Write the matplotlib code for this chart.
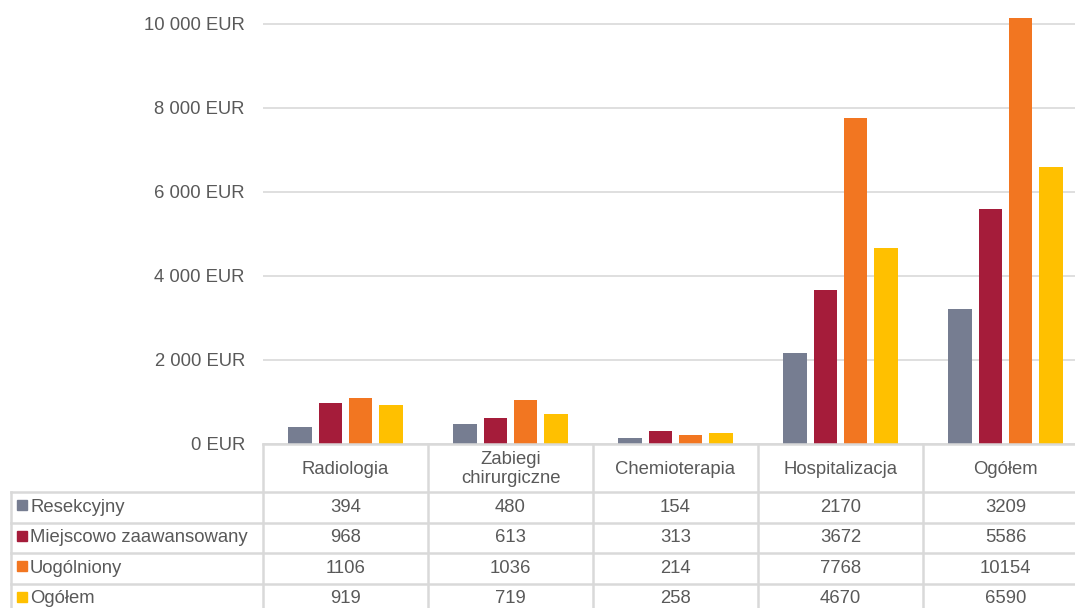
import numpy as np
import matplotlib.pyplot as plt

plt.rcParams['font.family'] = ['Liberation Sans', 'DejaVu Sans']

categories = ['Radiologia', 'Zabiegi\nchirurgiczne', 'Chemioterapia', 'Hospitalizacja', 'Ogółem']
series = ['Resekcyjny', 'Miejscowo zaawansowany', 'Uogólniony', 'Ogółem']
resekcyjny = [394, 480, 154, 2170, 3209]
miejscowo = [968, 613, 313, 3672, 5586]
uogolniony = [1106, 1036, 214, 7768, 10154]
ogolem = [919, 719, 258, 4670, 6590]
yticks = [0, 2000, 4000, 6000, 8000, 10000]

values = [resekcyjny, miejscowo, uogolniony, ogolem]
colors = ['#767D91', '#A51C3A', '#F27621', '#FFC000']
text_c = '#595959'
line_c = '#D9D9D9'
fs = 13.3

W, H = 1075, 608
fig = plt.figure(figsize=(W / 100, H / 100), dpi=100)

# chart area: x from 263 px to 1088 px (last column runs past the edge), y from 444 px up to the top
x0, x1, y0 = 263, 1088, 444
ax = fig.add_axes([x0 / W, 1 - y0 / H, (x1 - x0) / W, y0 / H])
x = np.arange(len(categories))
step, width = 0.182, 0.145
for i, (vals, col) in enumerate(zip(values, colors)):
    ax.bar(x + (i - 1.5) * step, vals, width=width, color=col, zorder=3)

ax.set_xlim(-0.5, len(categories) - 0.5)
ax.set_ylim(0, 10571)
ax.set_yticks(yticks)
ax.set_yticklabels([f'{v:,}'.replace(',', ' ') + ' EUR' for v in yticks])
ax.tick_params(axis='y', length=0, pad=13, labelsize=fs, labelcolor=text_c)
ax.set_xticks([])
ax.grid(axis='y', color=line_c, linewidth=1.2, zorder=0)
for s in ax.spines.values():
    s.set_visible(False)

# data table below the chart, laid out in pixel units
tab = fig.add_axes([0, 0, 1, 1 - y0 / H])
tab.set_xlim(0, W)
tab.set_ylim(H, y0)
tab.axis('off')

col_w = (x1 - x0) / len(categories)
head_bottom = 492
row_h = 30.5
lw = 1.8

# header row
tab.plot([x0, W], [y0, y0], color=line_c, lw=lw, clip_on=False)
tab.plot([11, W], [head_bottom, head_bottom], color=line_c, lw=lw)
for j, cat in enumerate(categories):
    cx = x0 + (j + 0.5) * col_w
    tab.text(cx, (y0 + head_bottom) / 2 + 1, cat, ha='center', va='center',
             fontsize=fs, color=text_c, linespacing=1.1)
for j in range(len(categories) + 1):
    xv = x0 + j * col_w
    tab.plot([xv, xv], [y0, H + 10], color=line_c, lw=lw, clip_on=False)
tab.plot([11, 11], [head_bottom, H + 10], color=line_c, lw=lw, clip_on=False)

# series rows with colour keys
for r, (name, vals, col) in enumerate(zip(series, values, colors)):
    top = head_bottom + r * row_h
    bot = top + row_h
    cy = (top + bot) / 2
    tab.plot([11, W], [bot, bot], color=line_c, lw=lw, clip_on=False)
    tab.add_patch(plt.Rectangle((17, cy - 7), 10, 10, color=col))
    tab.text(30, cy, name, ha='left', va='center', fontsize=fs, color=text_c)
    for j, v in enumerate(vals):
        cx = x0 + (j + 0.5) * col_w
        tab.text(cx, cy, str(v), ha='center', va='center', fontsize=fs, color=text_c)

fig.savefig('out.png', dpi=100)
